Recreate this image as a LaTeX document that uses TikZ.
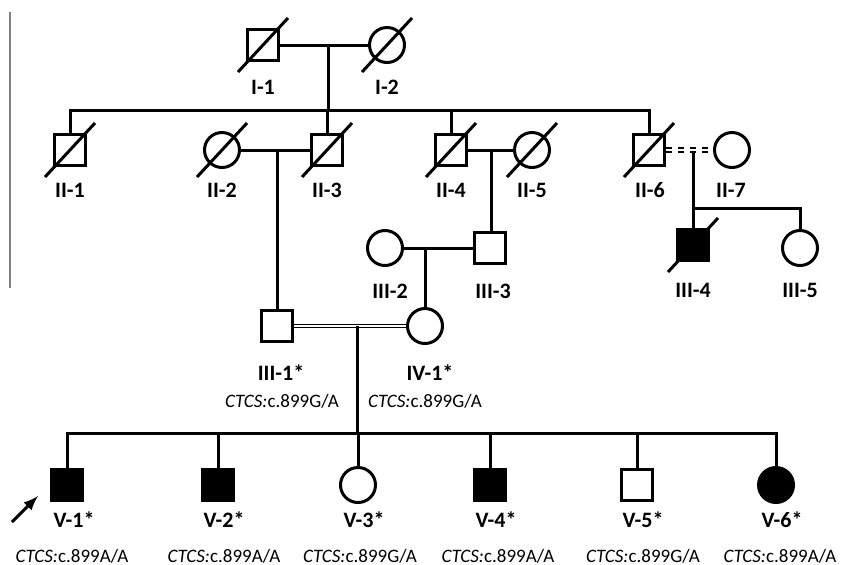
\documentclass[tikz,border=0pt]{standalone}
\usepackage{fontspec}
\setmainfont{Carlito}
\usepackage{tikz}

\newcommand{\deceased}[1]{\draw (#1.center) +(-25,27) -- +(25,-27);}

\begin{document}
\begin{tikzpicture}[x=0.5pt, y=-0.5pt, line width=1.5pt,
    male/.style={draw, rectangle, minimum size=15.5pt, inner sep=0pt},
    female/.style={draw, circle, minimum size=17.5pt, inner sep=0pt},
    lbl/.style={font=\fontsize{11}{12}\selectfont\bfseries, inner sep=0pt},
    geno/.style={font=\fontsize{9.5}{11}\selectfont, inner sep=0pt},
    cons/.style={double, double distance=0.8pt, line width=0.7pt},
    sepdash/.style={double, double distance=1pt, line width=0.85pt, dash pattern=on 3.2pt off 2.8pt}]
    \useasboundingbox (0,0) rectangle (841,564);

    % Draw the margin line
    \draw[gray, line width=0.8pt] (10,12) -- (10,288);

    % Generation I
    \node[male] (I1) at (263,45) {};
    \node[female] (I2) at (387,45) {};
    \deceased{I1}
    \deceased{I2}
    \node[lbl] (lI1) at (263,87) {I-1};
    \node[lbl] (lI2) at (387,87) {I-2};
    \draw (I1) -- (I2);
    \coordinate (m1) at (328,45);
    \coordinate (sib2) at (328,110);
    \draw (m1) -- (sib2);

    % Generation II
    \node[male] (II1) at (70,150) {};
    \node[female] (II2) at (222,150) {};
    \node[male] (II3) at (327,150) {};
    \node[male] (II4) at (451,150) {};
    \node[female] (II5) at (532,150) {};
    \node[male] (II6) at (649,150) {};
    \node[female] (II7) at (732,150) {};
    \deceased{II1}
    \deceased{II2}
    \deceased{II3}
    \deceased{II4}
    \deceased{II5}
    \deceased{II6}
    \node[lbl] (lII1) at (70,190) {II-1};
    \node[lbl] (lII2) at (222,190) {II-2};
    \node[lbl] (lII3) at (327,190) {II-3};
    \node[lbl] (lII4) at (451,190) {II-4};
    \node[lbl] (lII5) at (532,190) {II-5};
    \node[lbl] (lII6) at (650,190) {II-6};
    \node[lbl] (lII7) at (731,190) {II-7};
    \draw (II1) |- (sib2) -| (II6);
    \draw (II3) -- (II3 |- sib2);
    \draw (II4) -- (II4 |- sib2);
    \draw (II2) -- (II3);
    \draw (II4) -- (II5);
    \draw[sepdash] (II6) -- (II7);

    % Generation III
    \node[male] (III1) at (277,326) {};
    \node[female] (III2) at (385,248) {};
    \node[male] (III3) at (490,248) {};
    \node[male, fill=black] (III4) at (693,245) {};
    \node[female] (III5) at (800,248) {};
    \deceased{III4}
    \node[lbl] (lIII1) at (281,373) {III-1*};
    \node[geno] (gIII1) at (282,401) {\textit{CTCS:}c.899G/A};
    \node[lbl] (lIII2) at (390,291) {III-2};
    \node[lbl] (lIII3) at (493,291) {III-3};
    \node[lbl] (lIII4) at (693,290) {III-4};
    \node[lbl] (lIII5) at (800,290) {III-5};
    \coordinate (m2) at (277,150);
    \draw (m2) -- (III1);
    \coordinate (m3) at (491,150);
    \draw (m3) -- (m3 |- III3.north);
    \coordinate (m4) at (693,152);
    \coordinate (sib3) at (693,208);
    \draw (m4) -- (III4);
    \draw (sib3) -| (III5);
    \draw (III2) -- (III3);

    % Generation IV
    \node[female] (IV1) at (425,326) {};
    \node[lbl] (lIV1) at (430,373) {IV-1*};
    \node[geno] (gIV1) at (425,401) {\textit{CTCS:}c.899G/A};
    \coordinate (m5) at (425,248);
    \draw (m5) -- (IV1);
    \draw[cons] (III1) -- (IV1);
    \coordinate (m6) at (357,326);
    \coordinate (sib5) at (357,433);
    \draw (m6) -- (sib5);

    % Generation V
    \node[male, fill=black] (V1) at (67,485) {};
    \node[male, fill=black] (V2) at (218,485) {};
    \node[female] (V3) at (358,485) {};
    \node[male, fill=black] (V4) at (490,485) {};
    \node[male] (V5) at (637,485) {};
    \node[female, fill=black] (V6) at (776,485) {};
    \node[lbl] (lV1) at (74,520) {V-1*};
    \node[lbl] (lV2) at (224,520) {V-2*};
    \node[lbl] (lV3) at (364,520) {V-3*};
    \node[lbl] (lV4) at (496,520) {V-4*};
    \node[lbl] (lV5) at (643,520) {V-5*};
    \node[lbl] (lV6) at (782,520) {V-6*};
    \node[geno] (gV1) at (72,556) {\textit{CTCS:}c.899A/A};
    \node[geno] (gV2) at (224,556) {\textit{CTCS:}c.899A/A};
    \node[geno] (gV3) at (360,556) {\textit{CTCS:}c.899G/A};
    \node[geno] (gV4) at (498,556) {\textit{CTCS:}c.899A/A};
    \node[geno] (gV5) at (643,556) {\textit{CTCS:}c.899G/A};
    \node[geno] (gV6) at (780,556) {\textit{CTCS:}c.899A/A};
    \draw (V1) |- (sib5) -| (V6);
    \draw (V2) -- (V2 |- sib5);
    \draw (V3) -- (V3 |- sib5);
    \draw (V4) -- (V4 |- sib5);
    \draw (V5) -- (V5 |- sib5);

    % Proband arrow
    \coordinate (arrs) at (12,522);
    \coordinate (arre) at (38,496);
    \draw[->, >=latex] (arrs) -- (arre);
\end{tikzpicture}
\end{document}
